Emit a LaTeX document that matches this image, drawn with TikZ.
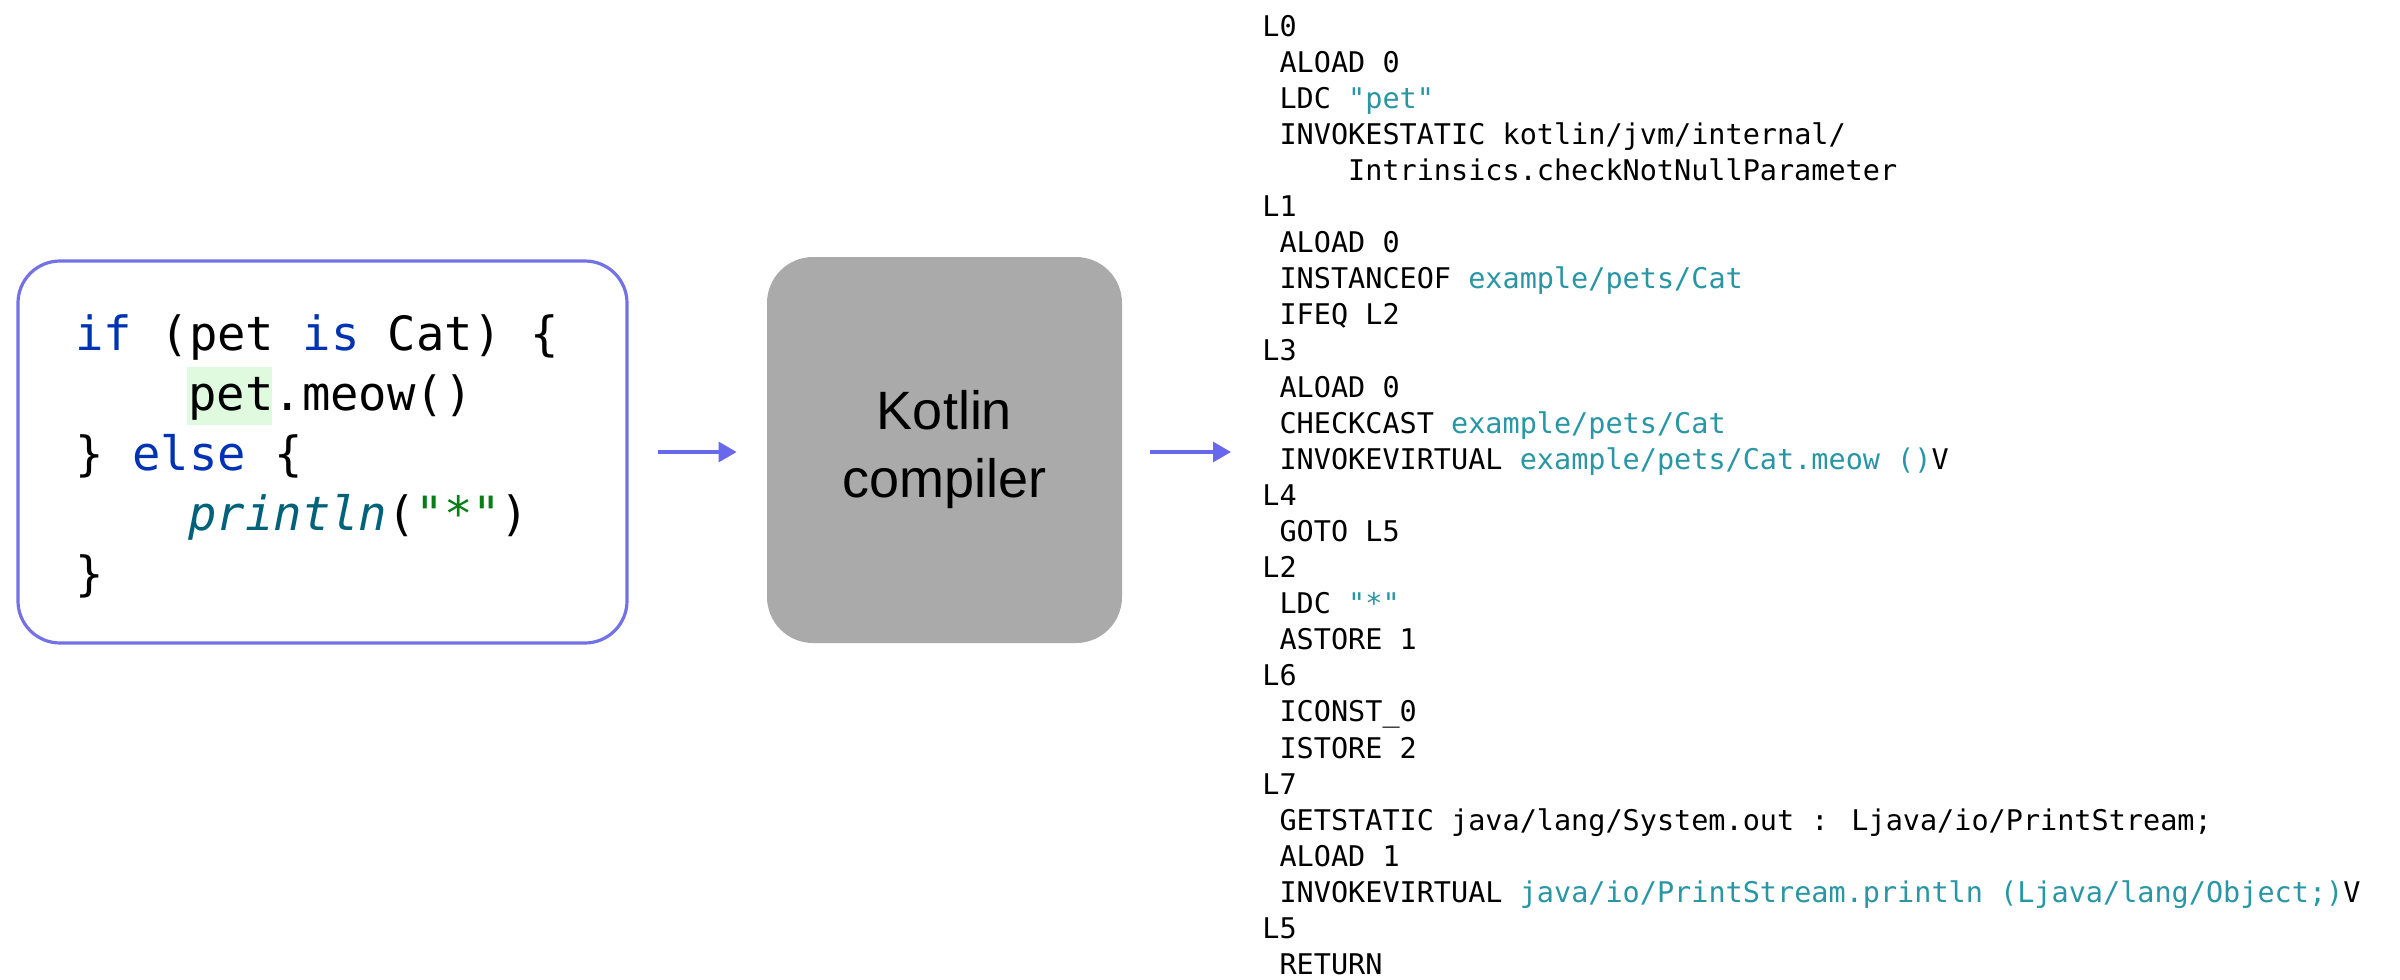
\documentclass[tikz,border=0pt]{standalone}
\usepackage{fontspec}
\setmainfont{Liberation Sans}
\newfontfamily\codefont{DejaVu Sans Mono}
\usetikzlibrary{arrows.meta}
\definecolor{kw}{HTML}{0033B3}
\definecolor{fn}{HTML}{00627A}
\definecolor{str}{HTML}{067D17}
\definecolor{hl}{HTML}{DFFADF}
\definecolor{bt}{HTML}{2896A4}
\definecolor{edge}{HTML}{7272E6}
\definecolor{arr}{HTML}{6868EC}
\definecolor{comp}{HTML}{AAAAAA}
\newcommand\bl[3]{\node[bc] (b#1) at ({1262+#2*17.15},{36+#1*36.1}) {#3};}
\begin{document}
\begin{tikzpicture}[x=0.5pt,y=-0.5pt,
  codebox/.style={draw=edge, line width=1.6pt, rounded corners=21pt, minimum width=304.5pt, minimum height=191pt, inner sep=0pt},
  compbox/.style={fill=comp, rounded corners=23pt, minimum width=177.5pt, minimum height=193pt, inner sep=0pt, align=center, font=\fontsize{27}{34}\selectfont},
  code/.style={font=\codefont\fontsize{23.6}{28}\selectfont, inner sep=0pt, anchor=base west},
  bc/.style={font=\codefont\fontsize{14.25}{17}\selectfont, inner sep=0pt, anchor=base west},
  flow/.style={draw=arr, line width=1.6pt, -{Triangle[length=9pt,width=10pt]}}]
\useasboundingbox (0,0) rectangle (2400,980);
% source code box
\node[codebox] (code) at (322.5,452) {};
\fill[hl] (187,367) rectangle (272,425);
\node[code] (c1) at (75,350) {\textcolor{kw}{if} (pet \textcolor{kw}{is} Cat) \{};
\node[code] (c2) at (188,410) {pet.meow()};
\node[code] (c3) at (75,470) {\} \textcolor{kw}{else} \{};
\node[code] (c4) at (188,530) {\textcolor{fn}{\itshape println}(\textcolor{str}{"*"})};
\node[code] (c5) at (75,590) {\}};
% compiler
\node[compbox] (kc) at (944.5,450) {Kotlin\\compiler};
\coordinate (out) at (1231,452);
\draw[flow, shorten <=14.5pt, shorten >=15pt] (code.east) -- (kc.west |- code.east);
\draw[flow, shorten <=14pt] (kc.east |- out) -- (out);
% bytecode
\bl{0}{0}{L0}
\bl{1}{1}{ALOAD 0}
\bl{2}{1}{LDC \textcolor{bt}{"pet"}}
\bl{3}{1}{INVOKESTATIC kotlin/jvm/internal/}
\bl{4}{5}{Intrinsics.checkNotNullParameter}
\bl{5}{0}{L1}
\bl{6}{1}{ALOAD 0}
\bl{7}{1}{INSTANCEOF \textcolor{bt}{example/pets/Cat}}
\bl{8}{1}{IFEQ L2}
\bl{9}{0}{L3}
\bl{10}{1}{ALOAD 0}
\bl{11}{1}{CHECKCAST \textcolor{bt}{example/pets/Cat}}
\bl{12}{1}{INVOKEVIRTUAL \textcolor{bt}{example/pets/Cat.meow ()}V}
\bl{13}{0}{L4}
\bl{14}{1}{GOTO L5}
\bl{15}{0}{L2}
\bl{16}{1}{LDC \textcolor{bt}{"*"}}
\bl{17}{1}{ASTORE 1}
\bl{18}{0}{L6}
\bl{19}{1}{ICONST\_0}
\bl{20}{1}{ISTORE 2}
\bl{21}{0}{L7}
\bl{22}{1}{GETSTATIC java/lang/System.out : Ljava/io/PrintStream;}
\bl{23}{1}{ALOAD 1}
\bl{24}{1}{INVOKEVIRTUAL \textcolor{bt}{java/io/PrintStream.println (Ljava/lang/Object;)}V}
\bl{25}{0}{L5}
\bl{26}{1}{RETURN}
\end{tikzpicture}
\end{document}
